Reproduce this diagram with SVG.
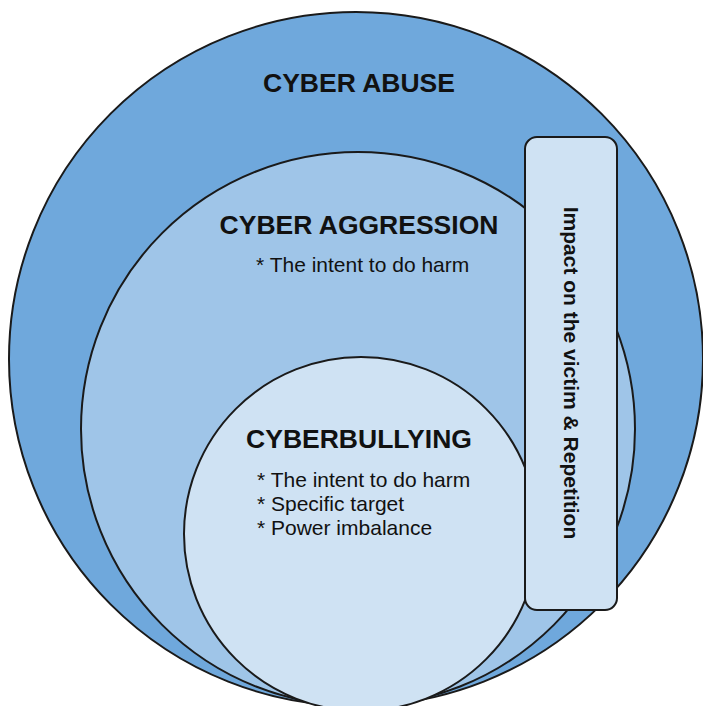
<svg xmlns="http://www.w3.org/2000/svg" width="703" height="706" viewBox="0 0 703 706">
<style>
.ring{stroke:#1a1a1a;stroke-width:2}
.head{font-family:"Liberation Sans",Arial,sans-serif;font-weight:bold;font-size:26.5px;fill:#111;text-anchor:middle}
.item{font-family:"Liberation Sans",Arial,sans-serif;font-size:21px;fill:#111}
.side{font-family:"Liberation Sans",Arial,sans-serif;font-weight:bold;font-size:21px;fill:#111;text-anchor:middle}
</style>
<rect width="703" height="706" fill="#ffffff"/>
<g id="cyber-abuse">
<circle class="ring" cx="356" cy="359" r="347" fill="#6fa8dc"/>
<text class="head" x="359" y="92">CYBER ABUSE</text>
</g>
<g id="cyber-aggression">
<circle class="ring" cx="358" cy="429" r="277" fill="#9fc5e8"/>
<text class="head" x="359" y="234">CYBER AGGRESSION</text>
<text class="item" x="256" y="272">* The intent to do harm</text>
</g>
<g id="cyberbullying">
<circle class="ring" cx="361" cy="534" r="177" fill="#cfe2f3"/>
<text class="head" x="359" y="448">CYBERBULLYING</text>
<text class="item" x="257" y="487">* The intent to do harm</text>
<text class="item" x="257" y="511">* Specific target</text>
<text class="item" x="257" y="535">* Power imbalance</text>
</g>
<g id="impact">
<rect x="525" y="137" width="92" height="473" rx="12" ry="12" fill="#cfe2f3" stroke="#1a1a1a" stroke-width="2"/>
<text class="side" transform="translate(563.5,373) rotate(90)" x="0" y="0">Impact on the victim &amp; Repetition</text>
</g>
<g id="connectors"></g>
</svg>
